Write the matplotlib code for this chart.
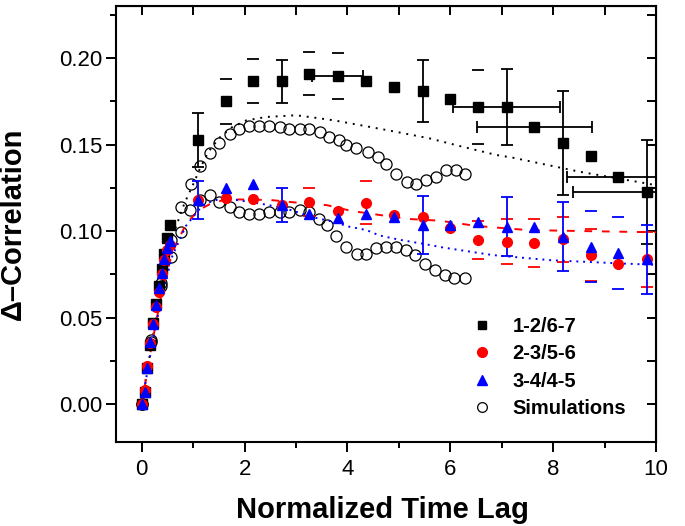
import numpy as np
import matplotlib
matplotlib.use("Agg")
import matplotlib.pyplot as plt
from matplotlib.ticker import MultipleLocator

plt.rcParams['font.family'] = ['Liberation Sans', 'DejaVu Sans']

# ---------------- data ----------------
x_rise = [0.0, 0.055, 0.11, 0.165, 0.22, 0.275, 0.33, 0.385, 0.44, 0.495, 0.55]
x_main = [1.09, 1.63, 2.17, 2.73, 3.26, 3.81, 4.37, 4.90, 5.47, 6.00, 6.54,
          7.10, 7.63, 8.20, 8.74, 9.27, 9.83]

black_rise = [0.0, 0.007, 0.021, 0.034, 0.047, 0.058, 0.068, 0.078, 0.087, 0.096, 0.1035]
black_main = [0.1526, 0.175, 0.1867, 0.1867, 0.191, 0.1896, 0.1867, 0.1834, 0.181,
              0.1765, 0.1718, 0.1718, 0.160, 0.151, 0.1433, 0.131, 0.1225]
black_yerr = [0.0155, 0.013, 0.0127, 0.0125, 0.0125, 0.0133, 0.0, 0.0, 0.018,
              0.0, 0.0215, 0.022, 0.0, 0.030, 0.0, 0.0, 0.030]
black_yerr_full = [1, 0, 0, 1, 0, 0, 0, 0, 1, 0, 0, 1, 0, 1, 0, 0, 1]
black_xerr = [0.0, 0.0, 0.0, 0.0, 0.0, 0.5, 0.0, 0.0, 0.0, 0.0, 0.0,
              1.04, 1.12, 0.0, 0.0, 1.0, 1.45]

red_rise = [0.0, 0.008, 0.022, 0.035, 0.046, 0.056, 0.065, 0.075, 0.083, 0.089, 0.092]
red_main = [0.118, 0.1189, 0.1183, 0.115, 0.117, 0.1117, 0.1164, 0.1092, 0.1083,
            0.1015, 0.0948, 0.0938, 0.0929, 0.0952, 0.0861, 0.0807, 0.0836]
red_yerr = [0.0, 0.0, 0.0, 0.0, 0.008, 0.0, 0.0125, 0.0, 0.0, 0.0, 0.011,
            0.013, 0.0139, 0.013, 0.015, 0.0, 0.016]

blue_rise = [0.0, 0.007, 0.021, 0.036, 0.046, 0.057, 0.067, 0.076, 0.084, 0.090, 0.094]
blue_main = [0.118, 0.1252, 0.127, 0.115, 0.110, 0.1073, 0.110, 0.108, 0.1035,
             0.1035, 0.1054, 0.1025, 0.1025, 0.0967, 0.0909, 0.0871, 0.0836]
blue_yerr = [0.011, 0.0, 0.0, 0.010, 0.0, 0.0, 0.0, 0.0, 0.017,
             0.0, 0.0, 0.017, 0.0, 0.020, 0.0206, 0.0208, 0.020]
blue_yerr_full = [1, 0, 0, 1, 0, 0, 0, 0, 1, 0, 0, 1, 0, 1, 0, 0, 1]

sim_hi_x = [0.0, 0.19, 0.38, 0.57, 0.76, 0.96, 1.13, 1.32, 1.51, 1.71, 1.90, 2.09,
            2.29, 2.48, 2.68, 2.87, 3.07, 3.26, 3.46, 3.65, 3.83, 3.98, 4.17, 4.40,
            4.59, 4.75, 4.95, 5.16, 5.34, 5.53, 5.73, 5.92, 6.12, 6.28]
sim_hi_y = [0.0, 0.037, 0.070, 0.095, 0.114, 0.1275, 0.1376, 0.1449, 0.1512, 0.156,
            0.159, 0.161, 0.161, 0.161, 0.1603, 0.1593, 0.1593, 0.159, 0.1574, 0.1545,
            0.1526, 0.150, 0.148, 0.146, 0.143, 0.139, 0.1333, 0.1285, 0.1275, 0.1295,
            0.1314, 0.1353, 0.1353, 0.1333]
sim_lo_x = [0.0, 0.19, 0.38, 0.57, 0.76, 0.93, 1.13, 1.32, 1.51, 1.71, 1.90, 2.09,
            2.29, 2.48, 2.68, 2.87, 3.07, 3.26, 3.44, 3.61, 3.78, 3.98, 4.18, 4.37,
            4.56, 4.75, 4.95, 5.14, 5.32, 5.51, 5.70, 5.89, 6.08, 6.28]
sim_lo_y = [0.0, 0.036, 0.068, 0.085, 0.0996, 0.112, 0.118, 0.121, 0.117, 0.114,
            0.111, 0.110, 0.110, 0.111, 0.111, 0.111, 0.112, 0.111, 0.107, 0.1035,
            0.097, 0.091, 0.087, 0.087, 0.090, 0.091, 0.091, 0.089, 0.086, 0.081,
            0.0775, 0.0746, 0.0727, 0.0727]

fit_black_x = [0.0, 0.2, 0.4, 0.6, 0.83, 1.0, 1.13, 1.3, 1.51, 1.75, 2.03, 2.42, 3.0,
               3.39, 3.75, 4.3, 4.95, 5.6, 6.25, 6.9, 7.21, 8.52, 9.81, 10.0]
fit_black_y = [0.0, 0.036, 0.070, 0.097, 0.116, 0.127, 0.136, 0.146, 0.154, 0.160,
               0.164, 0.166, 0.167, 0.1655, 0.164, 0.161, 0.1574, 0.1536, 0.1487,
               0.144, 0.1425, 0.1343, 0.1276, 0.1265]
fit_red_x = [0.0, 0.2, 0.4, 0.6, 0.86, 1.1, 1.35, 1.6, 1.9, 2.5, 3.0, 3.6, 4.07, 4.7,
             5.2, 5.8, 6.5, 7.5, 8.6, 10.0]
fit_red_y = [0.0, 0.035, 0.066, 0.088, 0.104, 0.112, 0.116, 0.118, 0.1183, 0.118,
             0.1165, 0.115, 0.1117, 0.109, 0.107, 0.106, 0.103, 0.1006, 0.100, 0.0993]
fit_blue_x = [0.0, 0.2, 0.4, 0.6, 0.86, 1.1, 1.25, 1.45, 1.84, 2.29, 2.81, 3.33, 3.72,
              4.04, 4.37, 4.62, 5.01, 5.5, 5.86, 6.83, 7.93, 9.29, 10.0]
fit_blue_y = [0.0, 0.034, 0.064, 0.086, 0.103, 0.112, 0.116, 0.118, 0.118, 0.116,
              0.113, 0.108, 0.1054, 0.1025, 0.1006, 0.0975, 0.095, 0.0925, 0.0905,
              0.0861, 0.0832, 0.0813, 0.0805]

labels = ["1-2/6-7", "2-3/5-6", "3-4/4-5", "Simulations"]

# ---------------- figure ----------------
fig = plt.figure(figsize=(6.85, 5.26), dpi=100)
ax = fig.add_axes([116/685, 1-442/526, 540/685, 436/526])

# simulations
ax.plot(sim_hi_x, sim_hi_y, 'o', mfc='none', mec='black', ms=8, mew=0.9, zorder=2)
ax.plot(sim_lo_x, sim_lo_y, 'o', mfc='none', mec='black', ms=8, mew=0.9, zorder=2)

# fit lines
ax.plot(fit_black_x, fit_black_y, color='black', lw=1.4, ls=(0, (1, 3)), zorder=3)
ax.plot(fit_red_x, fit_red_y, color='red', lw=1.4, ls=(0, (4, 5)), zorder=3)
ax.plot(fit_blue_x, fit_blue_y, color='blue', lw=1.4, ls=(0, (1, 2.5)), zorder=3)

def err_subset(xs, ys, errs, mask):
    xx = [a for a, e, m in zip(xs, errs, mask) if e > 0 and m]
    yy = [b for b, e, m in zip(ys, errs, mask) if e > 0 and m]
    ee = [e for e, m in zip(errs, mask) if e > 0 and m]
    return xx, yy, ee

# black error bars
full = black_yerr_full
xx, yy, ee = err_subset(x_main, black_main, black_yerr, full)
ax.errorbar(xx, yy, yerr=ee, fmt='none', ecolor='black', elinewidth=1.3, capsize=4, capthick=1.3, zorder=4)
xx, yy, ee = err_subset(x_main, black_main, black_yerr, [1 - f for f in full])
ax.errorbar(xx, yy, yerr=ee, fmt='none', ecolor='black', elinewidth=0, capsize=4, capthick=1.3, zorder=4)
xx, yy, ee = err_subset(x_main, black_main, black_xerr, [1] * len(x_main))
ax.errorbar(xx, yy, xerr=ee, fmt='none', ecolor='black', elinewidth=1.3, capsize=4, capthick=1.3, zorder=4)

# red error bars (caps only)
xx, yy, ee = err_subset(x_main, red_main, red_yerr, [1] * len(x_main))
ax.errorbar(xx, yy, yerr=ee, fmt='none', ecolor='red', elinewidth=0, capsize=4, capthick=1.3, zorder=4)

# blue error bars
xx, yy, ee = err_subset(x_main, blue_main, blue_yerr, blue_yerr_full)
ax.errorbar(xx, yy, yerr=ee, fmt='none', ecolor='blue', elinewidth=1.3, capsize=4, capthick=1.3, zorder=4)
xx, yy, ee = err_subset(x_main, blue_main, blue_yerr, [1 - f for f in blue_yerr_full])
ax.errorbar(xx, yy, yerr=ee, fmt='none', ecolor='blue', elinewidth=0, capsize=4, capthick=1.3, zorder=4)

# data markers
ax.plot(x_rise + x_main, black_rise + black_main, 's', color='black', ms=6.5, zorder=5)
ax.plot(x_rise + x_main, red_rise + red_main, 'o', color='red', ms=7, zorder=6)
ax.plot(x_rise + x_main, blue_rise + blue_main, '^', color='blue', ms=7.5, zorder=7)

# legend
h1 = ax.plot([], [], 's', color='black', ms=6)[0]
h2 = ax.plot([], [], 'o', color='red', ms=7)[0]
h3 = ax.plot([], [], '^', color='blue', ms=7)[0]
h4 = ax.plot([], [], 'o', mfc='none', mec='black', ms=7, mew=0.9)[0]
fig.legend([h1, h2, h3, h4], labels, loc='upper left',
           bbox_to_anchor=(472/685, 1-317/526), frameon=False,
           prop={'weight': 'bold', 'size': 14.5}, handlelength=1.0,
           handletextpad=1.0, labelspacing=0.42, borderpad=0, borderaxespad=0)

# axes
ax.set_xlim(-0.5, 10.0)
ax.set_ylim(-0.022, 0.2302)
ax.xaxis.set_major_locator(MultipleLocator(2))
ax.xaxis.set_minor_locator(MultipleLocator(1))
ax.yaxis.set_major_locator(MultipleLocator(0.05))
ax.yaxis.set_minor_locator(MultipleLocator(0.025))
ax.yaxis.set_major_formatter(matplotlib.ticker.FormatStrFormatter('%.2f'))

for s in ax.spines.values():
    s.set_linewidth(1.5)

ax.tick_params(axis='both', which='major', direction='out', length=7, width=1.4,
               labelsize=16, top=False, right=False)
ax.tick_params(axis='both', which='minor', direction='out', length=4, width=1.4,
               top=False, right=False)
ax.tick_params(axis='x', which='major', pad=5)
ax.tick_params(axis='y', which='major', pad=3)

# mirrored inward ticks on top and right
axt = ax.secondary_xaxis('top')
axt.xaxis.set_major_locator(MultipleLocator(1))
axt.tick_params(direction='in', length=6.5, width=1.4, labeltop=False)
axt.set_xticklabels([])
axr = ax.secondary_yaxis('right')
axr.yaxis.set_major_locator(MultipleLocator(0.025))
axr.tick_params(direction='in', length=6.5, width=1.4, labelright=False)
axr.set_yticklabels([])

ax.set_xlabel("Normalized Time Lag", fontsize=21, fontweight='bold')
ax.set_ylabel("\u0394\u2013Correlation", fontsize=21, fontweight='bold')
ax.xaxis.set_label_coords(0.494, -0.125)
ax.yaxis.set_label_coords(-0.165, 0.5)

fig.savefig("out.png", dpi=100)
